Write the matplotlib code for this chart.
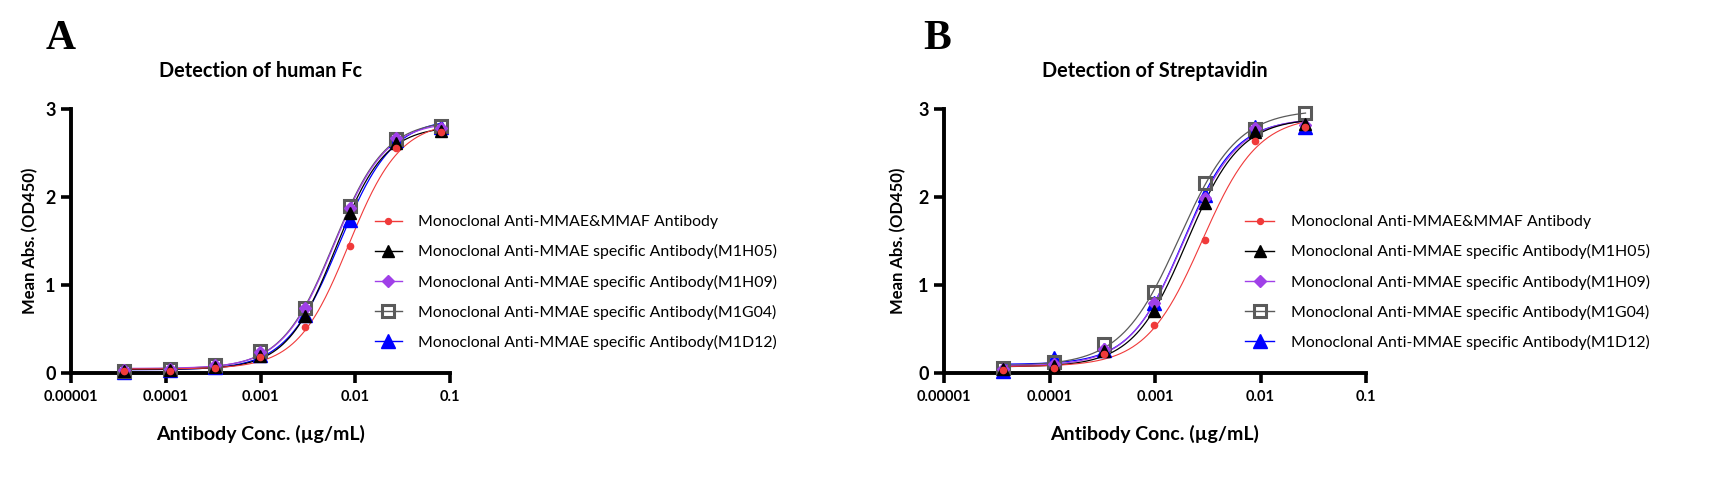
import numpy as np
import matplotlib
matplotlib.use("Agg")
import matplotlib.pyplot as plt
from matplotlib.lines import Line2D

plt.rcParams['font.family'] = ['Lato', 'DejaVu Sans']

# ---------------- data ----------------
conc_A = [3.66e-5, 1.10e-4, 3.29e-4, 9.88e-4, 2.96e-3, 8.89e-3, 2.67e-2, 8.0e-2]
conc_B = [3.66e-5, 1.10e-4, 3.29e-4, 9.88e-4, 2.96e-3, 8.89e-3, 2.67e-2]

series_names = [
    "Monoclonal Anti-MMAE&MMAF Antibody",
    "Monoclonal Anti-MMAE specific Antibody(M1H05)",
    "Monoclonal Anti-MMAE specific Antibody(M1H09)",
    "Monoclonal Anti-MMAE specific Antibody(M1G04)",
    "Monoclonal Anti-MMAE specific Antibody(M1D12)",
]

# Panel A: Detection of human Fc
A_mmae_mmaf = [0.02, 0.02, 0.06, 0.18, 0.52, 1.44, 2.56, 2.74]
A_m1h05 = [0.02, 0.03, 0.07, 0.19, 0.65, 1.82, 2.61, 2.75]
A_m1h09 = [0.03, 0.04, 0.09, 0.24, 0.74, 1.87, 2.67, 2.78]
A_m1g04 = [0.02, 0.04, 0.09, 0.25, 0.74, 1.90, 2.66, 2.81]
A_m1d12 = [0.01, 0.03, 0.07, 0.21, 0.66, 1.74, 2.65, 2.80]

# Panel B: Detection of Streptavidin
B_mmae_mmaf = [0.03, 0.06, 0.22, 0.55, 1.51, 2.64, 2.80]
B_m1h05 = [0.04, 0.08, 0.25, 0.71, 1.93, 2.74, 2.83]
B_m1h09 = [0.05, 0.10, 0.27, 0.79, 1.99, 2.78, 2.82]
B_m1g04 = [0.06, 0.12, 0.33, 0.92, 2.16, 2.77, 2.96]
B_m1d12 = [0.02, 0.17, 0.26, 0.80, 2.02, 2.80, 2.80]

x_tick_vals = [1e-5, 1e-4, 1e-3, 1e-2, 1e-1]
x_tick_labels = ["0.00001", "0.0001", "0.001", "0.01", "0.1"]
y_tick_vals = [0, 1, 2, 3]

# ---------------- styles ----------------
styles = [
    dict(color='#F03A3A', marker='o', ms=4.5, mfc='#F03A3A', mec='#F03A3A', mew=1, lw=0.8, z=6),
    dict(color='#000000', marker='^', ms=9, mfc='#000000', mec='#000000', mew=1, lw=0.9, z=5),
    dict(color='#A040E8', marker='D', ms=6.5, mfc='#A040E8', mec='#A040E8', mew=1, lw=0.9, z=4),
    dict(color='#5A5A5A', marker='s', ms=9, mfc='none', mec='#5A5A5A', mew=2.2, lw=0.9, z=3),
    dict(color='#0000FF', marker='^', ms=10, mfc='#0000FF', mec='#0000FF', mew=1, lw=0.9, z=2),
]


def fit_4pl(x, y):
    lx = np.log10(np.asarray(x, float))
    y = np.asarray(y, float)
    cs = np.arange(-4.5, -0.5, 0.005)
    hs = np.arange(0.4, 3.0, 0.01)
    C, H = np.meshgrid(cs, hs, indexing='ij')
    C = C.ravel()[:, None]
    H = H.ravel()[:, None]
    f = 1.0 / (1.0 + 10 ** ((C - lx[None, :]) * H))
    fm = f.mean(axis=1, keepdims=True)
    ym = y.mean()
    b = ((f - fm) * (y - ym)).sum(axis=1) / ((f - fm) ** 2).sum(axis=1)
    a = ym - b * fm[:, 0]
    pred = a[:, None] + b[:, None] * f
    sse = ((pred - y) ** 2).sum(axis=1)
    i = np.argmin(sse)
    return a[i], a[i] + b[i], C[i, 0], H[i, 0]


def curve(x, params, n=300):
    bottom, top, c, h = params
    lx = np.linspace(np.log10(min(x)), np.log10(max(x)), n)
    return 10 ** lx, bottom + (top - bottom) / (1 + 10 ** ((c - lx) * h))


W, Hh = 1709, 491
fig = plt.figure(figsize=(W / 100, Hh / 100), dpi=100)

panels = [
    dict(ax_px=(71, 450), conc=conc_A,
         data=[A_mmae_mmaf, A_m1h05, A_m1h09, A_m1g04, A_m1d12],
         title="Detection of human Fc", letter="A", letter_x=61, ylab_x=30,
         leg_x=375, hl=1.7, htp=1.0),
    dict(ax_px=(944, 1366), conc=conc_B,
         data=[B_mmae_mmaf, B_m1h05, B_m1h09, B_m1g04, B_m1d12],
         title="Detection of Streptavidin", letter="B", letter_x=937, ylab_x=898,
         leg_x=1245, hl=1.85, htp=1.05),
]

y0, y3 = 373, 109
for p in panels:
    xl, xr = p['ax_px']
    ax = fig.add_axes([xl / W, 1 - y0 / Hh, (xr - xl) / W, (y0 - y3) / Hh])
    handles = []
    for vals, st, name in zip(p['data'], styles, series_names):
        params = fit_4pl(p['conc'], vals)
        cx, cy = curve(p['conc'], params)
        ax.plot(cx, cy, color=st['color'], lw=st['lw'], zorder=st['z'], clip_on=False)
        ax.plot(p['conc'], vals, linestyle='none', marker=st['marker'], ms=st['ms'],
                mfc=st['mfc'], mec=st['mec'], mew=st['mew'], zorder=st['z'] + 10, clip_on=False)
        handles.append(Line2D([], [], color=st['color'], lw=1.0, marker=st['marker'],
                              ms=st['ms'] * 0.95, mfc=st['mfc'], mec=st['mec'], mew=st['mew'],
                              label=name))
    ax.set_xscale('log')
    ax.set_xlim(1e-5, 1e-1)
    ax.set_ylim(0, 3)
    ax.set_xticks(x_tick_vals)
    ax.set_xticklabels(x_tick_labels)
    ax.set_yticks(y_tick_vals)
    ax.set_yticklabels([str(v) for v in y_tick_vals])
    ax.xaxis.set_minor_locator(matplotlib.ticker.NullLocator())
    for s in ['top', 'right']:
        ax.spines[s].set_visible(False)
    for s in ['left', 'bottom']:
        ax.spines[s].set_linewidth(2.8)
        ax.spines[s].set_capstyle('projecting')
    ax.tick_params(axis='both', direction='out', length=7, width=2.6, color='black')
    ax.tick_params(axis='x', labelsize=10.5, pad=5)
    ax.tick_params(axis='y', labelsize=13, pad=4)
    for t in ax.get_xticklabels() + ax.get_yticklabels():
        t.set_fontweight('bold')
    ax.patch.set_alpha(0)

    cx_mid = (xl + xr) / 2
    fig.text(cx_mid / W, 1 - 71 / Hh, p['title'], ha='center', va='center',
             fontsize=14.3, fontweight='bold')
    fig.text(cx_mid / W, 1 - 434 / Hh, "Antibody Conc. (\u00b5g/mL)", ha='center', va='center',
             fontsize=14, fontweight='bold')
    fig.text(p['ylab_x'] / W, 1 - 241 / Hh, "Mean Abs. (OD450)", ha='center', va='center',
             rotation=90, fontsize=12, fontweight='bold')
    fig.text(p['letter_x'] / W, 1 - 39 / Hh, p['letter'], ha='center', va='center',
             fontsize=30, fontweight='bold', family='Liberation Serif')

    leg = fig.legend(handles=handles, loc='center left',
                     bbox_to_anchor=(p['leg_x'] / W, 1 - 282.5 / Hh),
                     frameon=False, fontsize=11.4, handlelength=p['hl'],
                     handletextpad=p['htp'], labelspacing=0.95, borderpad=0,
                     borderaxespad=0)

fig.savefig('out.png', dpi=100, facecolor='white')
